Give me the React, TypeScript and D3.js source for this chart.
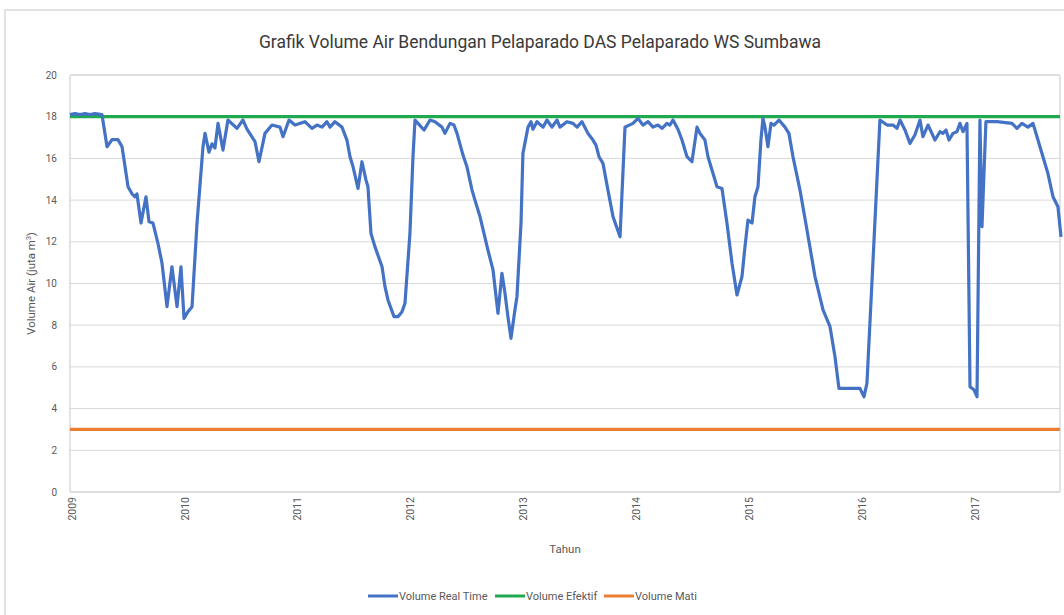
import React from 'react';
import * as d3 from 'd3';

// decimal year of each reading
const tahun = [
  2009.0, 2009.044, 2009.089, 2009.133, 2009.177, 2009.221, 2009.283, 2009.328, 2009.372, 2009.425,
  2009.461, 2009.514, 2009.549, 2009.576, 2009.593, 2009.629, 2009.673, 2009.7, 2009.735, 2009.779,
  2009.815, 2009.859, 2009.903, 2009.948, 2009.983, 2010.01, 2010.045, 2010.081, 2010.125, 2010.178,
  2010.196, 2010.231, 2010.258, 2010.284, 2010.311, 2010.355, 2010.399, 2010.479, 2010.532, 2010.568,
  2010.639, 2010.674, 2010.727, 2010.789, 2010.86, 2010.887, 2010.94, 2010.993, 2011.081, 2011.143,
  2011.188, 2011.232, 2011.276, 2011.303, 2011.347, 2011.409, 2011.453, 2011.48, 2011.507, 2011.551,
  2011.586, 2011.622, 2011.639, 2011.666, 2011.701, 2011.764, 2011.79, 2011.817, 2011.87, 2011.905,
  2011.941, 2011.967, 2012.011, 2012.038, 2012.056, 2012.082, 2012.136, 2012.189, 2012.233, 2012.295,
  2012.321, 2012.366, 2012.401, 2012.428, 2012.481, 2012.516, 2012.561, 2012.587, 2012.632, 2012.667,
  2012.702, 2012.747, 2012.791, 2012.826, 2012.853, 2012.879, 2012.906, 2012.941, 2012.959, 2012.995,
  2013.012, 2013.057, 2013.083, 2013.101, 2013.136, 2013.19, 2013.225, 2013.269, 2013.314, 2013.34,
  2013.402, 2013.455, 2013.491, 2013.535, 2013.588, 2013.632, 2013.659, 2013.686, 2013.721, 2013.765,
  2013.81, 2013.872, 2013.916, 2013.987, 2014.031, 2014.075, 2014.12, 2014.164, 2014.208, 2014.244,
  2014.288, 2014.314, 2014.341, 2014.385, 2014.421, 2014.465, 2014.509, 2014.554, 2014.58, 2014.624,
  2014.651, 2014.731, 2014.775, 2014.819, 2014.864, 2014.908, 2014.952, 2014.979, 2015.005, 2015.041,
  2015.067, 2015.094, 2015.12, 2015.138, 2015.156, 2015.182, 2015.209, 2015.236, 2015.28, 2015.333,
  2015.368, 2015.404, 2015.466, 2015.528, 2015.599, 2015.67, 2015.732, 2015.776, 2015.811, 2015.997,
  2016.033, 2016.059, 2016.103, 2016.174, 2016.237, 2016.29, 2016.325, 2016.352, 2016.396, 2016.44,
  2016.484, 2016.529, 2016.555, 2016.6, 2016.662, 2016.706, 2016.732, 2016.759, 2016.786, 2016.821,
  2016.856, 2016.883, 2016.91, 2016.945, 2016.972, 2017.007, 2017.034, 2017.06, 2017.078, 2017.113,
  2017.211, 2017.344, 2017.388, 2017.432, 2017.485, 2017.53, 2017.574, 2017.618, 2017.662, 2017.707,
  2017.751, 2017.778,
];

// Volume Real Time (juta m3)
const volumeRealTime = [
  18.1, 18.15, 18.1, 18.15, 18.1, 18.15, 18.1, 16.56, 16.9, 16.9,
  16.56, 14.64, 14.3, 14.16, 14.3, 12.9, 14.16, 12.96, 12.9, 11.93,
  10.97, 8.89, 10.8, 8.89, 10.8, 8.33, 8.65, 8.89, 12.9, 16.56,
  17.2, 16.3, 16.7, 16.5, 17.68, 16.4, 17.84, 17.44, 17.84, 17.4,
  16.8, 15.84, 17.2, 17.6, 17.5, 17.04, 17.84, 17.6, 17.76, 17.44,
  17.6, 17.5, 17.76, 17.5, 17.76, 17.5, 16.88, 16.08, 15.6, 14.56,
  15.84, 14.96, 14.64, 12.4, 11.77, 10.8, 9.85, 9.2, 8.41, 8.41,
  8.65, 9.05, 12.4, 16.08, 17.84, 17.68, 17.36, 17.84, 17.76, 17.5,
  17.2, 17.68, 17.6, 17.2, 16.16, 15.6, 14.48, 14.0, 13.2, 12.4,
  11.6, 10.65, 8.57, 10.49, 9.53, 8.41, 7.37, 8.73, 9.37, 12.9,
  16.24, 17.5, 17.76, 17.4, 17.76, 17.5, 17.84, 17.5, 17.84, 17.5,
  17.76, 17.68, 17.5, 17.76, 17.2, 16.88, 16.64, 16.08, 15.76, 14.48,
  13.2, 12.24, 17.5, 17.68, 17.92, 17.6, 17.76, 17.5, 17.6, 17.44,
  17.68, 17.6, 17.84, 17.4, 16.88, 16.08, 15.84, 17.5, 17.2, 16.88,
  16.08, 14.64, 14.56, 12.9, 10.97, 9.45, 10.33, 11.77, 13.04, 12.9,
  14.16, 14.64, 16.88, 17.92, 17.5, 16.56, 17.68, 17.6, 17.84, 17.5,
  17.2, 16.08, 14.48, 12.57, 10.33, 8.73, 7.93, 6.49, 4.97, 4.97,
  4.57, 5.21, 10.01, 17.84, 17.6, 17.6, 17.44, 17.84, 17.36, 16.72,
  17.12, 17.84, 17.04, 17.6, 16.88, 17.28, 17.2, 17.36, 16.88, 17.2,
  17.28, 17.68, 17.28, 17.68, 5.05, 4.9, 4.57, 17.84, 12.73, 17.76,
  17.76, 17.68, 17.44, 17.68, 17.5, 17.68, 16.88, 16.08, 15.28, 14.16,
  13.68, 12.24,
];

const volumeEfektif = 18;
const volumeMati = 3;

const yTicks = [0, 2, 4, 6, 8, 10, 12, 14, 16, 18, 20];
const yearTicks = [2009, 2010, 2011, 2012, 2013, 2014, 2015, 2016, 2017];

const legendItems = [
  { label: 'Volume Real Time', color: '#4472C4' },
  { label: 'Volume Efektif', color: '#1FAA4F' },
  { label: 'Volume Mati', color: '#ED7D31' },
];

const App: React.FC = () => {
  const width = 1064;
  const height = 615;
  const plot = { left: 70, top: 75, right: 1060, bottom: 492 };
  const font = '"Liberation Sans Narrow", "Roboto", sans-serif';

  const x = d3.scaleLinear()
    .domain([2009, tahun[tahun.length - 1]])
    .range([plot.left, plot.right + 1]);
  const y = d3.scaleLinear().domain([0, 20]).range([plot.bottom, plot.top]);

  const points = tahun.map((t, i) => [t, volumeRealTime[i]] as [number, number]);
  const line = d3.line<[number, number]>()
    .x(d => x(d[0]))
    .y(d => y(d[1]));

  const legendX = [368, 495, 604];

  return (
    <svg width={width} height={height} style={{ position: 'absolute', left: 0, top: 0, background: '#fff' }}>
      <rect x={0} y={0} width={width} height={height} fill="#fff" />
      {/* chart area frame */}
      <rect x={5} y={10} width={width + 10} height={height + 10} fill="none" stroke="#d9d9d9" strokeWidth={1.5} />

      <text x={540} y={48} textAnchor="middle" fontFamily={font} fontSize={17.5} fill="#3a3a3a">
        Grafik  Volume Air Bendungan Pelaparado DAS Pelaparado WS Sumbawa
      </text>

      {/* gridlines */}
      {yTicks.map(t => (
        <line key={t} x1={plot.left} x2={plot.right} y1={y(t)} y2={y(t)} stroke="#d9d9d9" strokeWidth={1} />
      ))}
      <rect x={plot.left} y={plot.top} width={plot.right - plot.left} height={plot.bottom - plot.top}
        fill="none" stroke="#d0d0d0" strokeWidth={1.2} rx={2} />

      {/* y labels */}
      {yTicks.map(t => (
        <text key={t} x={57} y={y(t)} dy="0.35em" textAnchor="end" fontFamily={font} fontSize={10} fill="#595959">
          {t}
        </text>
      ))}
      <text transform={`translate(35,${(plot.top + plot.bottom) / 2}) rotate(-90)`} textAnchor="middle"
        fontFamily={font} fontSize={11.5} fill="#595959">
        Volume Air (juta m<tspan dy="-4" fontSize={7}>3</tspan><tspan dy="4">)</tspan>
      </text>

      {/* x labels */}
      {yearTicks.map(t => (
        <text key={t} transform={`translate(${x(t) + 2},${plot.bottom + 5}) rotate(-90)`} dy="0.35em"
          textAnchor="end" fontFamily={font} fontSize={10.5} fill="#595959">
          {t}
        </text>
      ))}
      <text x={565} y={553} textAnchor="middle" fontFamily={font} fontSize={11.5} fill="#595959">Tahun</text>

      {/* series */}
      <line x1={plot.left} x2={plot.right} y1={y(volumeMati)} y2={y(volumeMati)} stroke="#ED7D31" strokeWidth={3.2} />
      <line x1={plot.left} x2={plot.right} y1={y(volumeEfektif)} y2={y(volumeEfektif)} stroke="#1FAA4F" strokeWidth={3.2} />
      <path d={line(points) ?? ''} fill="none" stroke="#4472C4" strokeWidth={3.2} strokeLinejoin="round" />

      {/* legend */}
      {legendItems.map((d, i) => (
        <g key={d.label} transform={`translate(${legendX[i]},596)`}>
          <line x1={0} x2={30} y1={0} y2={0} stroke={d.color} strokeWidth={3} />
          <text x={31} y={0} dy="0.35em" fontFamily={font} fontSize={11} fill="#595959">{d.label}</text>
        </g>
      ))}
    </svg>
  );
};

export default App;
